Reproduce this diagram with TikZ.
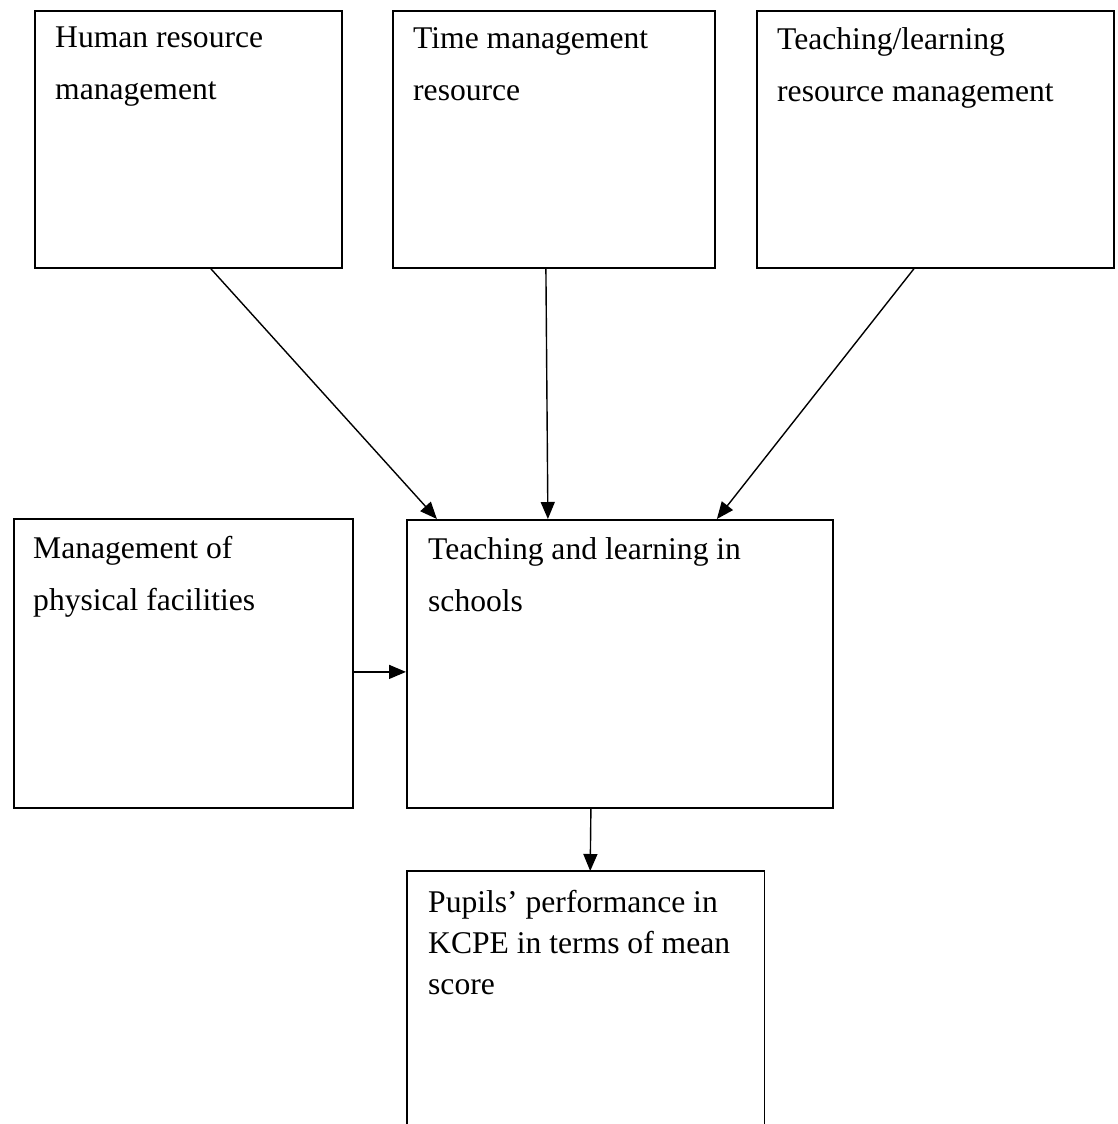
\documentclass[tikz,border=0pt]{standalone}
\usepackage{fontspec}
\setmainfont{Liberation Serif}
\usetikzlibrary{arrows.meta}

\begin{document}
\begin{tikzpicture}[x=1pt,y=-1pt,
  box/.style={draw,line width=1.8pt,inner sep=0pt,anchor=north west},
  txt/.style={inner sep=0pt,anchor=north west,align=left,font=\fontsize{31.6}{52}\selectfont},
  arr/.style={line width=1.4pt,-{Triangle[length=17pt,width=14pt]}}]
\clip (0,0) rectangle (1118,1124);
\node [box,minimum width=307pt,minimum height=257pt] (hrm) at (34,10) {};
\node [box,minimum width=322pt,minimum height=257pt] (tmr) at (392,10) {};
\node [box,minimum width=357pt,minimum height=257pt] (tlr) at (756,10) {};
\node [box,minimum width=339pt,minimum height=289pt] (mpf) at (13,518) {};
\node [box,minimum width=426pt,minimum height=288pt] (tls) at (406,519) {};
\node [inner sep=0pt,anchor=north west,minimum width=357pt,minimum height=300pt] (ppk) at (407,871) {};
\draw [line width=1.8pt] (ppk.south west) -- (ppk.north west) -- (ppk.north east) -- (ppk.south east);
\node [txt] (hrmtxt) at ([shift={(21,17)}]hrm.north west) {Human resource\\management};
\node [txt] (tmrtxt) at ([shift={(21,17)}]tmr.north west) {Time management\\resource};
\node [txt] (tlrtxt) at ([shift={(21,17)}]tlr.north west) {Teaching/learning\\resource management};
\node [txt] (mpftxt) at ([shift={(20,18)}]mpf.north west) {Management of\\physical facilities};
\node [txt] (tlstxt) at ([shift={(22,18)}]tls.north west) {Teaching and learning in\\schools};
\node [txt,font=\fontsize{31.6}{41}\selectfont] (ppktxt) at ([shift={(21,19)}]ppk.north west) {Pupils’ performance in\\KCPE in terms of mean\\score};
\draw [arr] ([xshift=22.5pt]hrm.south) -- ([xshift=-183pt]tls.north);
\draw [arr] ([xshift=-8pt]tmr.south) -- ([xshift=-72pt]tls.north);
\draw [arr] ([xshift=-21.5pt]tlr.south) -- ([xshift=97pt]tls.north);
\draw [arr] ([yshift=-8.5pt]mpf.east) -- ([yshift=-8pt]tls.west);
\draw [arr] ([xshift=-29pt]tls.south) -- ([xshift=4.5pt]ppk.north);
\end{tikzpicture}
\end{document}
